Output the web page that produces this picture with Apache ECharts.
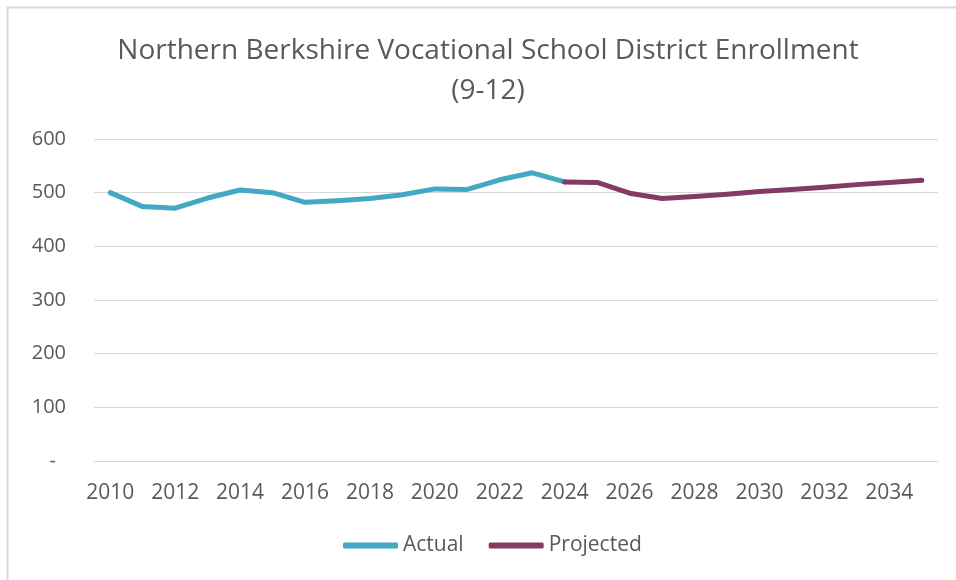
<!DOCTYPE html>
<html>
<head>
<meta charset="utf-8">
<script src="https://cdn.jsdelivr.net/npm/echarts@6/dist/echarts.min.js"></script>
<style>
  html, body { margin: 0; padding: 0; background: #fff; }
  #chart { width: 956px; height: 580px; }
</style>
</head>
<body>
<div id="chart"></div>
<script>
// categories (school years)
var years = ['2010', '2011', '2012', '2013', '2014', '2015', '2016', '2017', '2018',
  '2019', '2020', '2021', '2022', '2023', '2024', '2025', '2026', '2027', '2028',
  '2029', '2030', '2031', '2032', '2033', '2034', '2035'];

// actual enrollment 2010-2024
var actual = [500, 474, 471, 490, 505, 500, 482, 485, 489, 496, 507, 506, 524, 537, 520];

// projected enrollment 2024-2035
var projected = [520, 519, 499, 489, 493, 497, 502, 506, 510, 515, 519, 523];

var actualData = years.map(function (y, i) { return i < actual.length ? actual[i] : null; });
var projStart = years.indexOf('2024');
var projectedData = years.map(function (y, i) {
  return i >= projStart ? projected[i - projStart] : null;
});

var textColor = '#595959';
var font = 'Open Sans';

var chart = echarts.init(document.getElementById('chart'));

var option = {
  backgroundColor: '#fff',
  animation: false,
  title: {
    text: 'Northern Berkshire Vocational School District Enrollment\n(9-12)',
    left: 483,
    textAlign: 'center',
    top: 26,
    textStyle: {
      color: textColor,
      fontFamily: font,
      fontWeight: 'normal',
      fontSize: 28,
      lineHeight: 40
    }
  },
  graphic: [{
    type: 'rect',
    shape: { x: 7.5, y: 7.5, width: 1200, height: 1200 },
    style: { fill: 'none', stroke: '#d9d9d9', lineWidth: 2 },
    silent: true
  }],
  legend: {
    bottom: 19,
    left: 338,
    icon: 'roundRect',
    itemWidth: 55,
    itemHeight: 6,
    itemGap: 25,
    textStyle: { color: textColor, fontFamily: font, fontSize: 21 },
    data: ['Actual', 'Projected']
  },
  grid: {
    left: 94,
    right: 18,
    top: 139,
    bottom: 119,
    containLabel: false
  },
  xAxis: {
    type: 'category',
    data: years,
    boundaryGap: true,
    axisLine: { lineStyle: { color: '#d9d9d9', width: 1 } },
    axisTick: { show: false },
    axisLabel: {
      interval: 1,
      margin: 22,
      color: textColor,
      fontFamily: font,
      fontSize: 21
    }
  },
  yAxis: {
    type: 'value',
    min: 0,
    max: 600,
    interval: 100,
    axisLine: { show: false },
    axisTick: { show: false },
    splitLine: { lineStyle: { color: '#d9d9d9', width: 1 } },
    axisLabel: {
      margin: 28,
      color: textColor,
      fontFamily: font,
      fontSize: 20,
      formatter: function (v) { return v === 0 ? '{d|-}' : String(v); },
      rich: { d: { color: textColor, fontFamily: font, fontSize: 20, padding: [0, 10, 0, 0] } }
    }
  },
  series: [
    {
      name: 'Actual',
      type: 'line',
      data: actualData,
      symbol: 'none',
      color: '#42a8c3',
      lineStyle: { width: 5, color: '#42a8c3', cap: 'round', join: 'round' }
    },
    {
      name: 'Projected',
      type: 'line',
      data: projectedData,
      symbol: 'none',
      color: '#833a64',
      lineStyle: { width: 5, color: '#833a64', cap: 'round', join: 'round' }
    }
  ]
};

chart.setOption(option);
</script>
</body>
</html>
